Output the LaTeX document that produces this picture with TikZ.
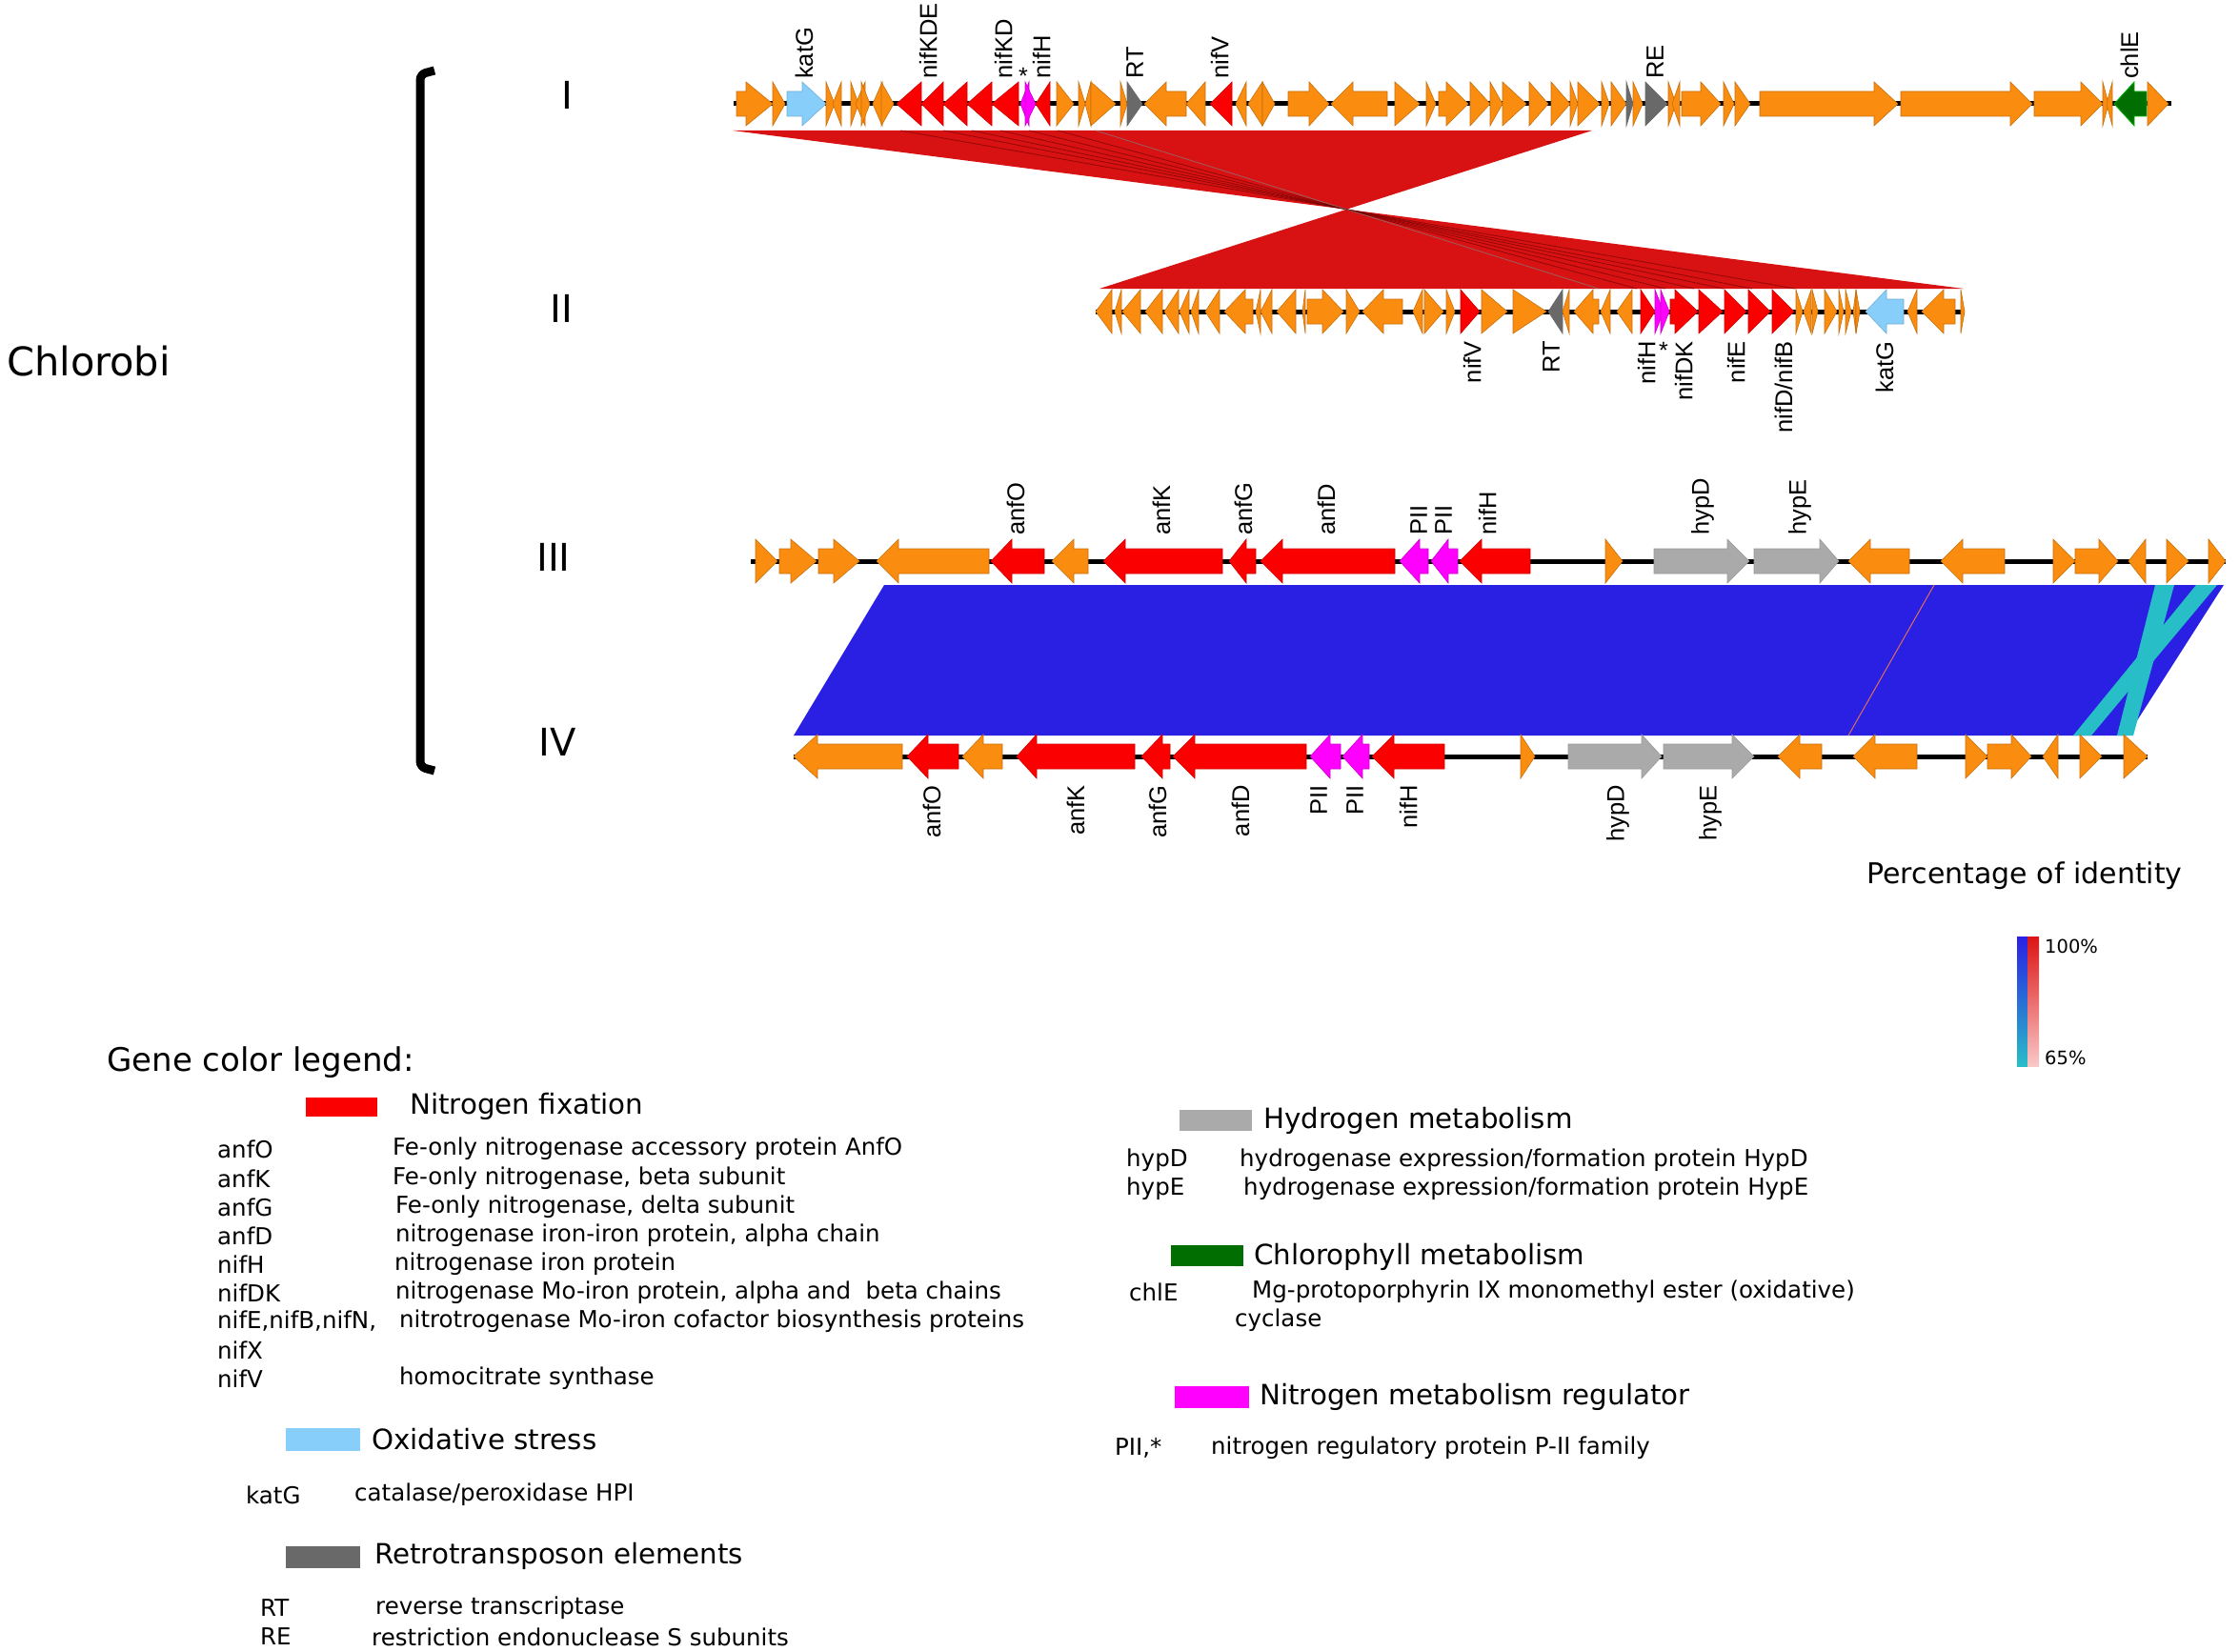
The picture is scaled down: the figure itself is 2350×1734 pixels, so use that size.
\documentclass[tikz,border=0pt]{standalone}
\usepackage{fontspec}
\setmainfont{DejaVu Sans}
\newfontfamily\lib{Liberation Sans}
\definecolor{gorange}{RGB}{250,140,15}
\definecolor{gred}{RGB}{250,0,0}
\definecolor{glblue}{RGB}{135,206,250}
\definecolor{gdgray}{RGB}{105,105,105}
\definecolor{glgray}{RGB}{170,170,170}
\definecolor{ggreen}{RGB}{0,110,0}
\definecolor{gmag}{RGB}{255,0,255}
\definecolor{bandred}{RGB}{216,18,18}
\definecolor{bandblue}{RGB}{42,32,228}
\definecolor{bandcyan}{RGB}{40,190,200}
\definecolor{barred}{RGB}{220,20,20}
\definecolor{barpink}{RGB}{250,200,200}
\newcommand{\gR}[5]{\filldraw[#1] (#3,{#2-13}) -- (#4,{#2-13}) -- (#4,{#2-23}) -- (#5,#2) -- (#4,{#2+23}) -- (#4,{#2+13}) -- (#3,{#2+13}) -- cycle;}
\newcommand{\gL}[5]{\filldraw[#1] (#3,#2) -- (#4,{#2-23}) -- (#4,{#2-13}) -- (#5,{#2-13}) -- (#5,{#2+13}) -- (#4,{#2+13}) -- (#4,{#2+23}) -- cycle;}
\newcommand{\gRt}[4]{\gR{#1}{#2}{#3}{#3}{#4}}
\newcommand{\gLt}[4]{\gL{#1}{#2}{#3}{#4}{#4}}
\newcommand{\yA}{109}
\newcommand{\yB}{327}
\newcommand{\yC}{589}
\newcommand{\yD}{794}
\begin{document}
\begin{tikzpicture}[x=1pt,y=-1pt,
  og/.style={fill=gorange,draw=gorange!80!black,line width=0.6pt},
  rd/.style={fill=gred,draw=gred!85!black,line width=0.6pt},
  lb/.style={fill=glblue,draw=glblue!85!black,line width=0.6pt},
  dg/.style={fill=gdgray,draw=gdgray,line width=0.6pt},
  lg/.style={fill=glgray,draw=glgray!90!black,line width=0.6pt},
  gr/.style={fill=ggreen,draw=green!70!black,line width=0.8pt},
  mg/.style={fill=gmag,draw=gmag!80!black,line width=0.6pt},
  trackline/.style={line width=5pt,black},
  glabel/.style={font=\lib\fontsize{25.5}{25.5}\selectfont,inner sep=0pt,rotate=90},
  legtxt/.style={font=\fontsize{24.5}{24.5}\selectfont,anchor=west,inner sep=0pt},
  leghead/.style={font=\fontsize{29.3}{29.3}\selectfont,anchor=west,inner sep=0pt},
  roman/.style={font=\fontsize{40}{40}\selectfont,inner sep=0pt},
  bandline/.style={draw=black!60!red,line width=0.8pt,opacity=0.6}]
\useasboundingbox (0,0) rectangle (2350,1734);
\fill[white] (0,0) rectangle (2350,1734);

% ---------- left labels ----------
\node[font=\fontsize{41.5}{41.5}\selectfont,anchor=west,inner sep=0pt] (chl) at (7,379) {Chlorobi};
\draw[line width=9pt,rounded corners=6pt] (456,74) -- (441,78) -- (441,805) -- (456,809);
\node[roman] (rI) at (595,100) {I};
\node[roman] (rII) at (589,324) {II};
\node[roman] (rIII) at (581,585) {III};
\node[roman] (rIV) at (585,779) {IV};

% ---------- synteny bands ----------
\fill[bandred] (769,137) -- (1671,137) -- (1154,303) -- (2061,303) -- cycle;
\draw[bandline] (945,137) -- (1884,303);
\draw[bandline] (990,137) -- (1839,303);
\draw[bandline] (1020,137) -- (1809,303);
\draw[bandline] (1050,137) -- (1778,303);
\draw[bandline] (1080,137) -- (1748,303);
\draw[bandline] (1110,137) -- (1718,303);
\draw[draw=gray,line width=0.8pt,opacity=0.7] (1150,137) -- (1678,303);
\fill[bandblue] (928,614) -- (2334,614) -- (2233,772) -- (833,772) -- cycle;
\fill[bandcyan] (2262,614) -- (2282,614) -- (2239,772) -- (2222,772) -- cycle;
\fill[bandcyan] (2305,614) -- (2327,614) -- (2195,772) -- (2176,772) -- cycle;
\draw[draw={rgb,255:red,220;green,110;blue,90},line width=1pt] (2030,614) -- (1940,772);

% ---------- track lines ----------
\draw[trackline] (770,\yA) -- (2279,\yA);
\draw[trackline] (1150,\yB) -- (2062,\yB);
\draw[trackline] (788,\yC) -- (2336,\yC);
\draw[trackline] (833,\yD) -- (2254,\yD);

% ---------- track I ----------
\gR{og}{\yA}{773}{783}{811}
\gRt{og}{\yA}{811}{824}
\gR{lb}{\yA}{826}{842}{867}
\gRt{og}{\yA}{867}{876}
\gLt{og}{\yA}{874}{883}
\gRt{og}{\yA}{893}{901}
\gLt{og}{\yA}{898}{908}
\gRt{og}{\yA}{904}{913}
\gLt{og}{\yA}{916}{926}
\gRt{og}{\yA}{925}{938}
\gLt{rd}{\yA}{941}{967}
\gLt{rd}{\yA}{967}{990}
\gLt{rd}{\yA}{990}{1015}
\gLt{rd}{\yA}{1015}{1041}
\gLt{rd}{\yA}{1041}{1069}
\gLt{mg}{\yA}{1071}{1080}
\gRt{mg}{\yA}{1076}{1087}
\gLt{rd}{\yA}{1087}{1102}
\gRt{og}{\yA}{1109}{1127}
\gRt{og}{\yA}{1132}{1139}
\gLt{og}{\yA}{1139}{1145}
\gRt{og}{\yA}{1145}{1171}
\gRt{og}{\yA}{1176}{1183}
\gRt{dg}{\yA}{1183}{1199}
\gL{og}{\yA}{1201}{1224}{1245}
\gLt{og}{\yA}{1245}{1265}
\gLt{rd}{\yA}{1270}{1293}
\gLt{og}{\yA}{1297}{1308}
\gLt{og}{\yA}{1310}{1325}
\gRt{og}{\yA}{1325}{1338}
\gR{og}{\yA}{1352}{1374}{1395}
\gL{og}{\yA}{1397}{1420}{1456}
\gRt{og}{\yA}{1464}{1490}
\gRt{og}{\yA}{1497}{1507}
\gR{og}{\yA}{1510}{1518}{1541}
\gRt{og}{\yA}{1543}{1564}
\gRt{og}{\yA}{1564}{1577}
\gRt{og}{\yA}{1577}{1602}
\gRt{og}{\yA}{1605}{1625}
\gRt{og}{\yA}{1628}{1648}
\gRt{og}{\yA}{1648}{1656}
\gRt{og}{\yA}{1656}{1679}
\gRt{og}{\yA}{1681}{1689}
\gRt{og}{\yA}{1691}{1707}
\gRt{dg}{\yA}{1707}{1714}
\gRt{og}{\yA}{1714}{1724}
\gRt{dg}{\yA}{1727}{1750}
\gRt{og}{\yA}{1751}{1759}
\gLt{og}{\yA}{1755}{1763}
\gR{og}{\yA}{1765}{1785}{1806}
\gRt{og}{\yA}{1809}{1820}
\gRt{og}{\yA}{1821}{1837}
\gR{og}{\yA}{1847}{1967}{1992}
\gR{og}{\yA}{1995}{2110}{2133}
\gR{og}{\yA}{2135}{2184}{2207}
\gRt{og}{\yA}{2207}{2213}
\gLt{og}{\yA}{2211}{2217}
\gL{gr}{\yA}{2219}{2240}{2253}
\gRt{og}{\yA}{2254}{2276}
\node[glabel,anchor=west] (a1) at (844,83) {katG};
\node[glabel,anchor=west] (a2) at (974,83) {nifKDE};
\node[glabel,anchor=west] (a3) at (1053,83) {nifKD};
\node[font=\lib\fontsize{25}{25}\selectfont,inner sep=0pt] (a4) at (1074,80) {*};
\node[glabel,anchor=west] (a5) at (1093,83) {nifH};
\node[glabel,anchor=west] (a6) at (1191,83) {RT};
\node[glabel,anchor=west] (a7) at (1280,83) {nifV};
\node[glabel,anchor=west] (a8) at (1737,83) {RE};
\node[glabel,anchor=west] (a9) at (2235,83) {chlE};

% ---------- track II ----------
\gLt{og}{\yB}{1150}{1167}
\gLt{og}{\yB}{1170}{1177}
\gLt{og}{\yB}{1178}{1197}
\gLt{og}{\yB}{1202}{1220}
\gLt{og}{\yB}{1222}{1237}
\gLt{og}{\yB}{1238}{1248}
\gLt{og}{\yB}{1250}{1258}
\gLt{og}{\yB}{1265}{1280}
\gL{og}{\yB}{1285}{1307}{1315}
\gLt{og}{\yB}{1318}{1323}
\gLt{og}{\yB}{1323}{1335}
\gLt{og}{\yB}{1340}{1360}
\gLt{og}{\yB}{1367}{1370}
\gR{og}{\yB}{1372}{1388}{1410}
\gRt{og}{\yB}{1413}{1427}
\gL{og}{\yB}{1430}{1452}{1472}
\gLt{og}{\yB}{1483}{1493}
\gRt{og}{\yB}{1495}{1515}
\gRt{og}{\yB}{1518}{1527}
\gRt{rd}{\yB}{1533}{1553}
\gRt{og}{\yB}{1555}{1582}
\gRt{og}{\yB}{1588}{1623}
\gLt{dg}{\yB}{1625}{1640}
\gLt{og}{\yB}{1640}{1647}
\gL{og}{\yB}{1652}{1672}{1678}
\gLt{og}{\yB}{1680}{1690}
\gLt{og}{\yB}{1697}{1713}
\gRt{rd}{\yB}{1722}{1737}
\gRt{mg}{\yB}{1737}{1746}
\gRt{mg}{\yB}{1743}{1752}
\gR{rd}{\yB}{1753}{1758}{1782}
\gRt{rd}{\yB}{1783}{1808}
\gRt{rd}{\yB}{1810}{1833}
\gRt{rd}{\yB}{1835}{1858}
\gRt{rd}{\yB}{1860}{1883}
\gRt{og}{\yB}{1885}{1892}
\gLt{og}{\yB}{1893}{1901}
\gRt{og}{\yB}{1902}{1908}
\gRt{og}{\yB}{1915}{1928}
\gRt{og}{\yB}{1930}{1935}
\gRt{og}{\yB}{1937}{1943}
\gLt{og}{\yB}{1945}{1948}
\gRt{og}{\yB}{1948}{1952}
\gL{lb}{\yB}{1958}{1980}{1998}
\gLt{og}{\yB}{2002}{2012}
\gL{og}{\yB}{2017}{2040}{2052}
\gRt{og}{\yB}{2058}{2062}
\node[glabel,anchor=east] (b1) at (1545,358) {nifV};
\node[glabel,anchor=east] (b2) at (1628,358) {RT};
\node[glabel,anchor=east] (b3) at (1728,358) {nifH};
\node[font=\lib\fontsize{25}{25}\selectfont,inner sep=0pt] (b4) at (1746,368) {*};
\node[glabel,anchor=east] (b5) at (1767,358) {nifDK};
\node[glabel,anchor=east] (b6) at (1822,358) {nifE};
\node[glabel,anchor=east] (b7) at (1872,358) {nifD/nifB};
\node[glabel,anchor=east] (b8) at (1978,358) {katG};

% ---------- track III ----------
\gRt{og}{\yC}{793}{816}
\gR{og}{\yC}{818}{830}{857}
\gR{og}{\yC}{859}{875}{902}
\gL{og}{\yC}{920}{943}{1038}
\gL{rd}{\yC}{1040}{1062}{1096}
\gL{og}{\yC}{1104}{1127}{1142}
\gL{rd}{\yC}{1158}{1181}{1283}
\gL{rd}{\yC}{1290}{1308}{1318}
\gL{rd}{\yC}{1323}{1346}{1464}
\gL{mg}{\yC}{1469}{1490}{1499}
\gL{mg}{\yC}{1502}{1520}{1530}
\gL{rd}{\yC}{1532}{1555}{1606}
\gRt{og}{\yC}{1685}{1703}
\gR{lg}{\yC}{1736}{1813}{1836}
\gR{lg}{\yC}{1841}{1910}{1930}
\gL{og}{\yC}{1940}{1963}{2004}
\gL{og}{\yC}{2037}{2060}{2104}
\gRt{og}{\yC}{2155}{2178}
\gR{og}{\yC}{2178}{2203}{2223}
\gLt{og}{\yC}{2234}{2252}
\gRt{og}{\yC}{2274}{2297}
\gRt{og}{\yC}{2318}{2336}
\node[glabel,anchor=west] (c1) at (1066,562) {anfO};
\node[glabel,anchor=west] (c2) at (1219,562) {anfK};
\node[glabel,anchor=west] (c3) at (1305,562) {anfG};
\node[glabel,anchor=west] (c4) at (1392,562) {anfD};
\node[glabel,anchor=west] (c5) at (1489,562) {PII};
\node[glabel,anchor=west] (c6) at (1515,562) {PII};
\node[glabel,anchor=west] (c7) at (1561,562) {nifH};
\node[glabel,anchor=west] (c8) at (1787,562) {hypD};
\node[glabel,anchor=west] (c9) at (1889,562) {hypE};

% ---------- track IV ----------
\gL{og}{\yD}{833}{858}{947}
\gL{rd}{\yD}{952}{974}{1006}
\gL{og}{\yD}{1010}{1032}{1052}
\gL{rd}{\yD}{1067}{1088}{1191}
\gL{rd}{\yD}{1198}{1220}{1228}
\gL{rd}{\yD}{1231}{1254}{1371}
\gL{mg}{\yD}{1375}{1396}{1407}
\gL{mg}{\yD}{1409}{1430}{1437}
\gL{rd}{\yD}{1440}{1463}{1516}
\gRt{og}{\yD}{1596}{1611}
\gR{lg}{\yD}{1646}{1723}{1744}
\gR{lg}{\yD}{1746}{1818}{1841}
\gL{og}{\yD}{1866}{1889}{1912}
\gL{og}{\yD}{1945}{1968}{2012}
\gRt{og}{\yD}{2063}{2086}
\gR{og}{\yD}{2086}{2111}{2132}
\gLt{og}{\yD}{2144}{2160}
\gRt{og}{\yD}{2183}{2206}
\gRt{og}{\yD}{2229}{2254}
\node[glabel,anchor=east] (d1) at (978,824) {anfO};
\node[glabel,anchor=east] (d2) at (1129,824) {anfK};
\node[glabel,anchor=east] (d3) at (1215,824) {anfG};
\node[glabel,anchor=east] (d4) at (1302,824) {anfD};
\node[glabel,anchor=east] (d5) at (1384,824) {PII};
\node[glabel,anchor=east] (d6) at (1422,824) {PII};
\node[glabel,anchor=east] (d7) at (1478,824) {nifH};
\node[glabel,anchor=east] (d8) at (1698,824) {hypD};
\node[glabel,anchor=east] (d9) at (1795,824) {hypE};

% ---------- identity scale ----------
\node[font=\fontsize{30}{30}\selectfont,inner sep=0pt] (pid) at (2125,919) {Percentage of identity};
\shade[top color=bandblue,bottom color=bandcyan] (2117,983) rectangle (2128,1119);
\shade[top color=barred,bottom color=barpink] (2128,983) rectangle (2140,1119);
\node[font=\fontsize{19.5}{19.5}\selectfont,anchor=west,inner sep=0pt] (p100) at (2146,993) {100\%};
\node[font=\fontsize{19.5}{19.5}\selectfont,anchor=west,inner sep=0pt] (p65) at (2146,1110) {65\%};

% ---------- legend left ----------
\node[font=\fontsize{34}{34}\selectfont,anchor=west,inner sep=0pt] (lgt) at (112,1115) {Gene color legend:};
\fill[gred] (321,1152) rectangle (396,1172);
\node[leghead] (h1) at (430,1161) {Nitrogen fixation};
\node[legtxt] (n1) at (228,1206) {anfO};
\node[legtxt] (e1) at (412,1206) {Fe-only nitrogenase accessory protein AnfO};
\node[legtxt] (n2) at (228,1237) {anfK};
\node[legtxt] (e2) at (412,1237) {Fe-only nitrogenase, beta subunit};
\node[legtxt] (n3) at (228,1267) {anfG};
\node[legtxt] (e3) at (415,1267) {Fe-only nitrogenase, delta subunit};
\node[legtxt] (n4) at (228,1297) {anfD};
\node[legtxt] (e4) at (415,1297) {nitrogenase iron-iron protein, alpha chain};
\node[legtxt] (n5) at (228,1327) {nifH};
\node[legtxt] (e5) at (414,1327) {nitrogenase iron protein};
\node[legtxt] (n6) at (228,1357) {nifDK};
\node[legtxt] (e6) at (415,1357) {nitrogenase Mo-iron protein, alpha and\ \ beta chains};
\node[legtxt] (n7) at (228,1387) {nifE,nifB,nifN,};
\node[legtxt] (e7) at (419,1387) {nitrotrogenase Mo-iron cofactor biosynthesis proteins};
\node[legtxt] (n8) at (228,1417) {nifX};
\node[legtxt] (n9) at (228,1447) {nifV};
\node[legtxt] (e9) at (419,1447) {homocitrate synthase};
\fill[glblue] (300,1499) rectangle (378,1523);
\node[leghead] (h2) at (390,1511) {Oxidative stress};
\node[legtxt] (n10) at (258,1569) {katG};
\node[legtxt] (e10) at (372,1569) {catalase/peroxidase HPI};
\fill[gdgray] (300,1623) rectangle (378,1646);
\node[leghead] (h3) at (393,1633) {Retrotransposon elements};
\node[legtxt] (n11) at (273,1688) {RT};
\node[legtxt] (e11) at (394,1688) {reverse transcriptase};
\node[legtxt] (n12) at (273,1718) {RE};
\node[legtxt] (e12) at (390,1718) {restriction endonuclease S subunits};

% ---------- legend right ----------
\fill[glgray] (1238,1165) rectangle (1314,1187);
\node[leghead] (h4) at (1326,1176) {Hydrogen metabolism};
\node[legtxt] (n13) at (1182,1218) {hypD};
\node[legtxt] (e13) at (1301,1218) {hydrogenase expression/formation protein HypD};
\node[legtxt] (n14) at (1182,1248) {hypE};
\node[legtxt] (e14) at (1305,1248) {hydrogenase expression/formation protein HypE};
\fill[ggreen] (1229,1307) rectangle (1305,1329);
\node[leghead] (h5) at (1316,1319) {Chlorophyll metabolism};
\node[legtxt] (n15) at (1185,1356) {chlE};
\node[legtxt] (e15) at (1314,1356) {Mg-protoporphyrin IX monomethyl ester (oxidative)};
\node[legtxt] (e15b) at (1296,1386) {cyclase};
\fill[gmag] (1233,1455) rectangle (1311,1478);
\node[leghead] (h6) at (1322,1466) {Nitrogen metabolism regulator};
\node[legtxt] (n16) at (1170,1520) {PII,*};
\node[legtxt] (e16) at (1271,1520) {nitrogen regulatory protein P-II family};
\end{tikzpicture}
\end{document}
